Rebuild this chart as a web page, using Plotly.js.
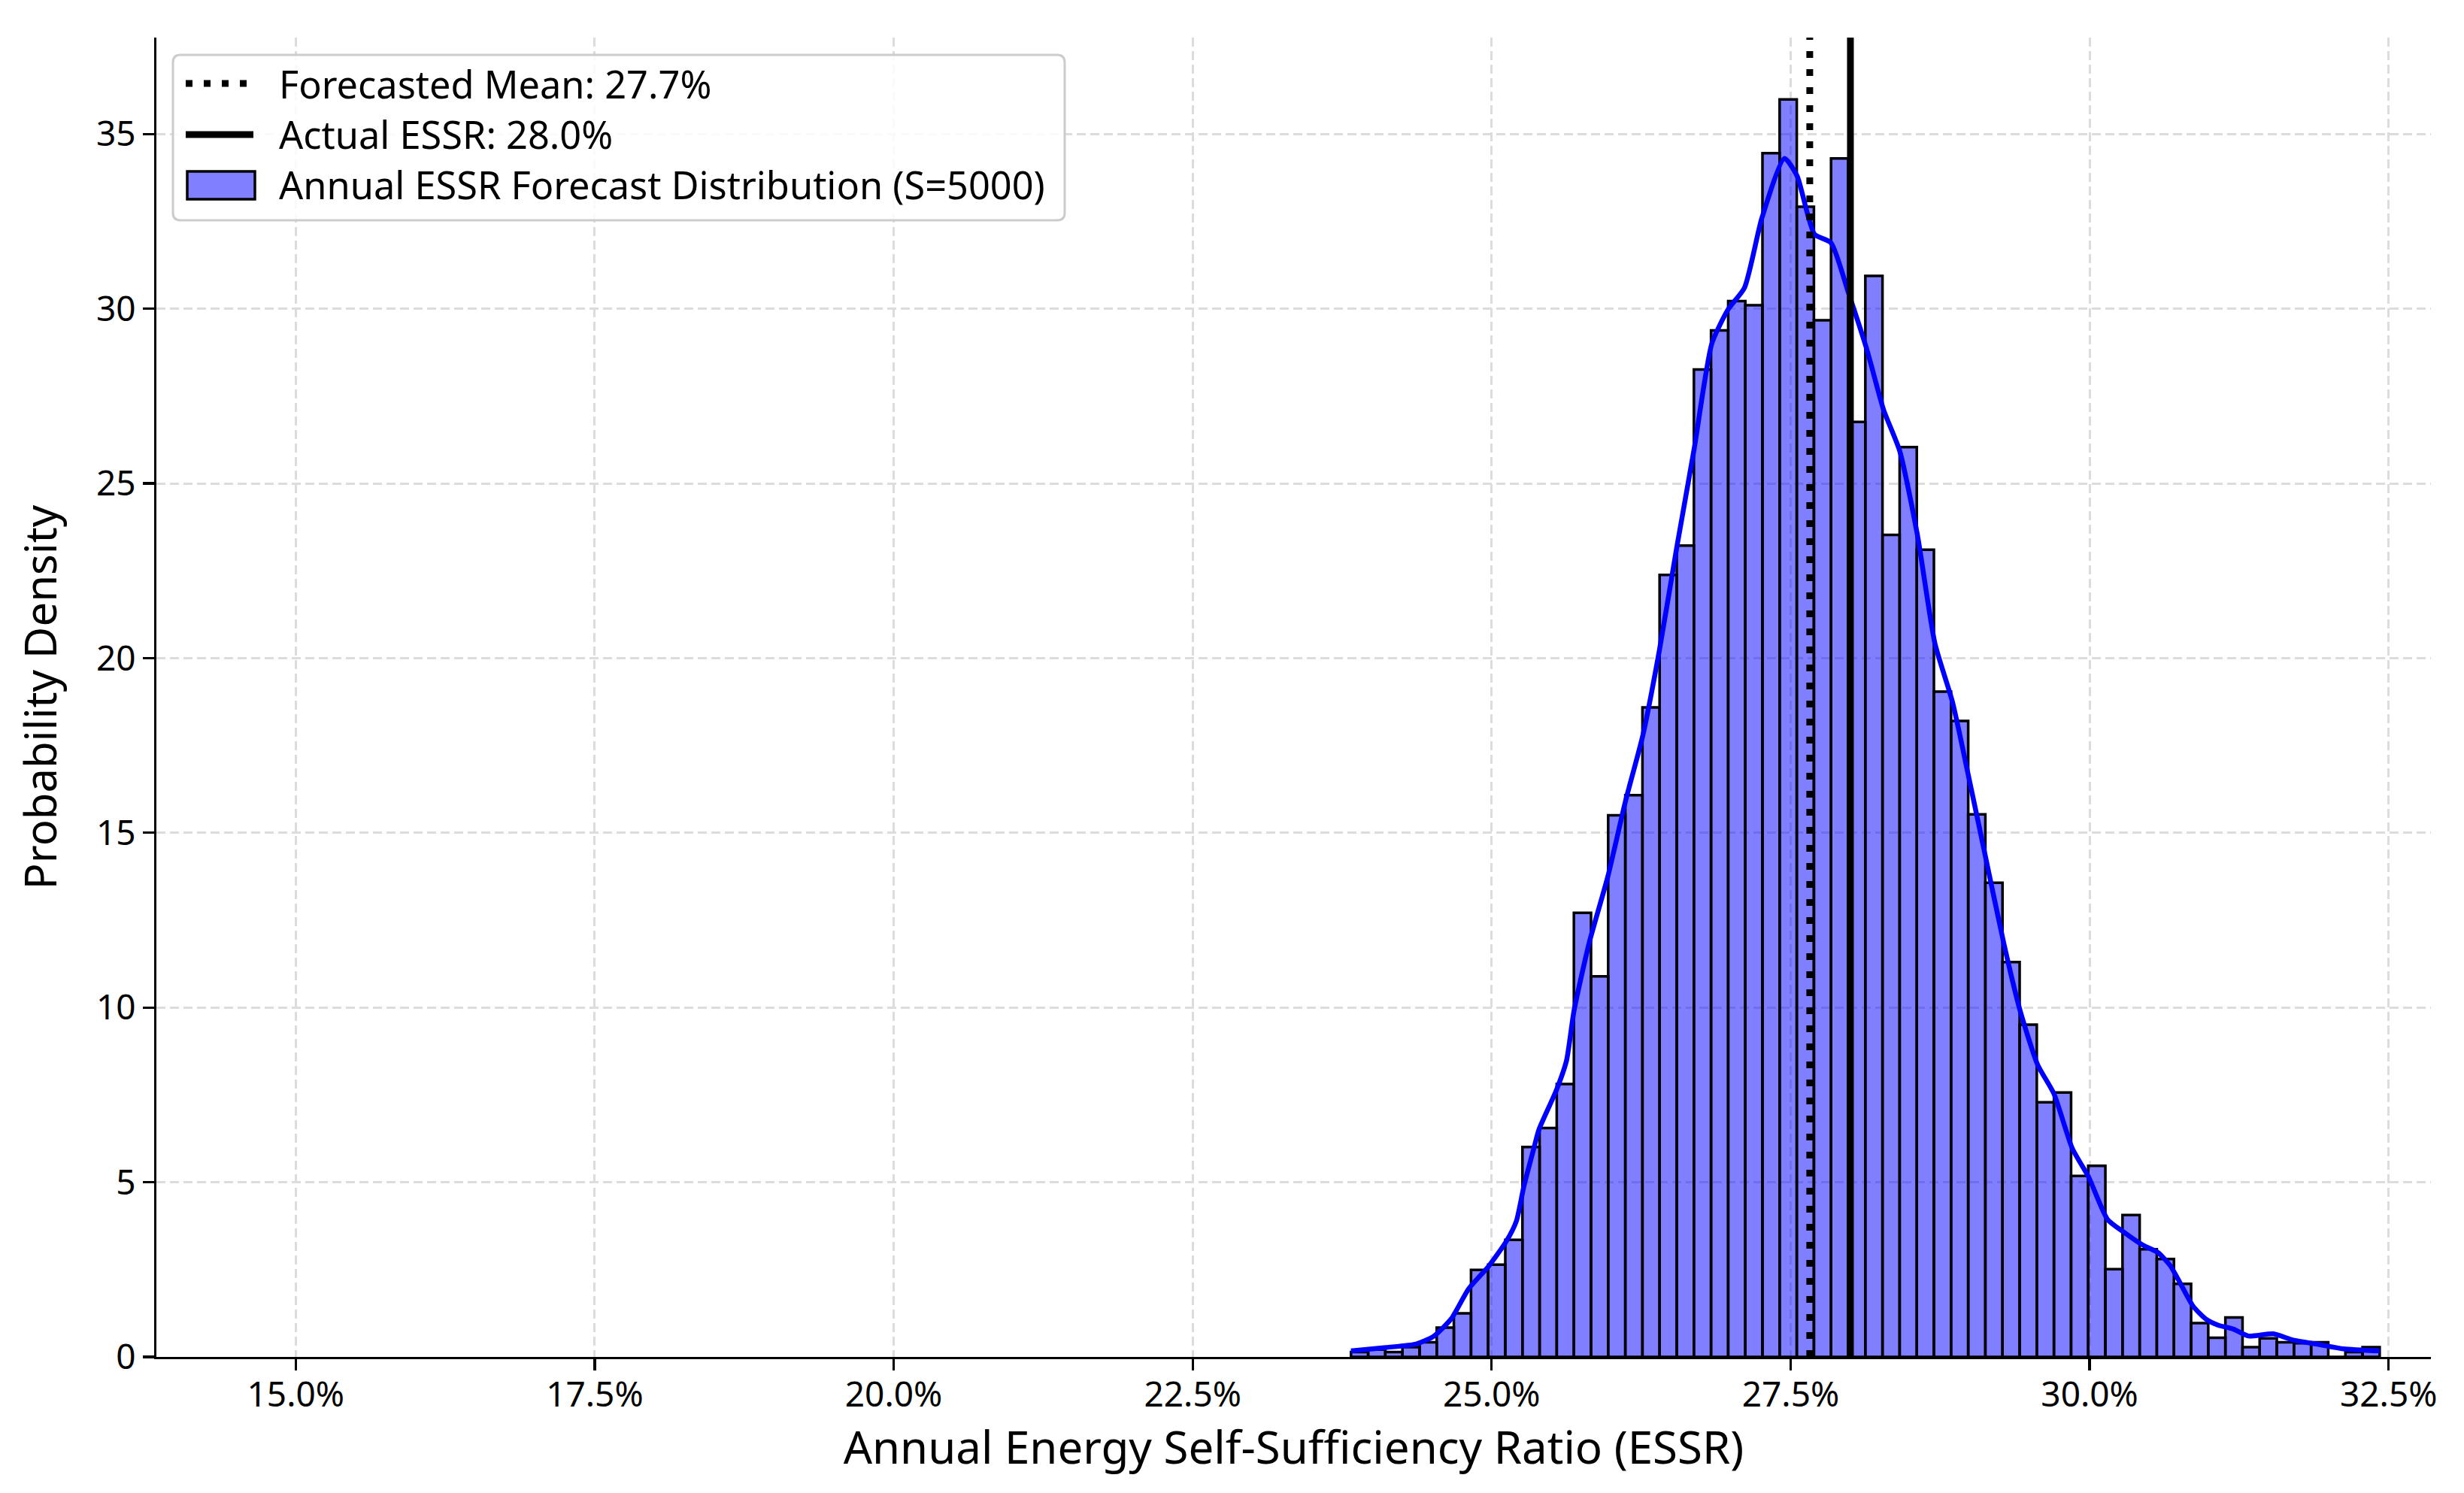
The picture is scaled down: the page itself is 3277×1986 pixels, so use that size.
<!DOCTYPE html>
<html>
<head>
<meta charset="utf-8">
<script src="https://cdn.plot.ly/plotly-3.0.1.min.js"></script>
<style>html,body{margin:0;padding:0;background:#fff;}#chart{width:3277px;height:1986px;}</style>
</head>
<body>
<div id="chart"></div>
<script>
// ---- data ----
const binStart = 0.23824;      // left edge of first histogram bin (fraction)
const binWidth = 0.0014336;    // histogram bin width (fraction)
const density = [0.14,0.21,0.14,0.28,0.42,0.84,1.25,2.49,2.64,3.35,
                 6.01,6.55,7.81,12.71,10.89,15.5,16.08,18.59,22.38,23.22,
                 28.26,29.38,30.22,30.10,34.45,35.99,32.92,29.67,34.30,26.76,
                 30.94,23.53,26.04,23.1,19.04,18.2,15.53,13.57,11.3,9.51,
                 7.29,7.57,5.18,5.47,2.51,4.06,3.08,2.80,2.09,0.97,
                 0.55,1.13,0.28,0.53,0.42,0.39,0.42,0,0.14,0.28];
const kdeX = [0.23824,0.24117,0.24368,0.24515,0.24662,0.24808,0.24976,0.25123,0.25207,0.2527,
              0.25353,0.25395,0.25542,0.25626,0.25689,0.25814,0.25971,0.26118,0.26265,0.26401,
              0.26548,0.26694,0.26841,0.26977,0.27114,0.2726,0.27449,0.27554,0.277,0.27837,
              0.27983,0.28141,0.28277,0.28413,0.2856,0.28706,0.28853,0.28989,0.29136,0.29283,
              0.29419,0.29566,0.29702,0.29855,0.29993,0.30149,0.30283,0.30446,0.30572,0.30677,
              0.30761,0.30866,0.3097,0.31075,0.31201,0.31326,0.31536,0.31703,0.31913,0.32123,0.32426];
const kdeY = [0.17,0.27,0.37,0.59,1.09,1.95,2.6,3.31,3.89,4.89,
              5.97,6.5,7.64,8.48,9.91,11.83,13.74,15.89,17.8,20.19,
              23.17,26.0,29.0,29.98,30.6,32.6,34.3,33.8,32.13,31.89,
              30.46,28.79,27.11,25.92,23.53,20.43,18.75,16.6,14.21,11.83,
              9.91,8.36,7.53,5.97,5.14,3.94,3.58,3.2,2.99,2.6,
              2.09,1.45,1.09,0.91,0.8,0.6,0.66,0.48,0.36,0.23,0.17];
const forecastMean = 0.2766;
const actualESSR = 0.280;
const legendLabels = ["Forecasted Mean: 27.7%", "Actual ESSR: 28.0%", "Annual ESSR Forecast Distribution (S=5000)"];
const xTitle = "Annual Energy Self-Sufficiency Ratio (ESSR)";
const yTitle = "Probability Density";

// ---- build ----
const FONT = '"Noto Sans", "Noto Sans CJK JP", sans-serif';
const binCenters = density.map((_, i) => binStart + binWidth * (i + 0.5));

const traces = [
  {
    type: 'bar', x: binCenters, y: density, width: binWidth,
    marker: {color: 'rgba(0,0,255,0.5)', line: {color: '#000', width: 3.5}},
    hoverinfo: 'x+y', showlegend: false
  },
  {
    type: 'scatter', mode: 'lines', x: kdeX, y: kdeY,
    line: {color: '#0000ff', width: 6.5, shape: 'spline', smoothing: 0.6},
    showlegend: false
  }
];

// pixel -> paper helpers for the legend box (plot area l=208, r=3233, t=50, b=1805)
const L = 208, R = 3233, T = 50, B = 1805;
const px = v => (v - L) / (R - L);
const py = v => (B - v) / (B - T);

function roundRect(x0, y0, x1, y1, r) {
  const rx = r / (R - L), ry = r / (B - T);
  const X0 = px(x0), X1 = px(x1), Y0 = py(y1), Y1 = py(y0);
  return `M${X0+rx},${Y0} L${X1-rx},${Y0} Q${X1},${Y0} ${X1},${Y0+ry} L${X1},${Y1-ry} Q${X1},${Y1} ${X1-rx},${Y1} L${X0+rx},${Y1} Q${X0},${Y1} ${X0},${Y1-ry} L${X0},${Y0+ry} Q${X0},${Y0} ${X0+rx},${Y0} Z`;
}

const rows = [111, 179, 246.7];
const textRows = [111, 179, 246];

const shapes = [
  {type: 'line', xref: 'x', yref: 'paper', x0: forecastMean, x1: forecastMean, y0: 0, y1: 1,
   line: {color: '#000', width: 9, dash: '9px,15px'}, layer: 'above'},
  {type: 'line', xref: 'x', yref: 'paper', x0: actualESSR, x1: actualESSR, y0: 0, y1: 1,
   line: {color: '#000', width: 9}, layer: 'above'},
  // legend frame
  {type: 'path', xref: 'paper', yref: 'paper', path: roundRect(230, 73, 1416, 293, 10),
   fillcolor: 'rgba(255,255,255,0.85)', line: {color: '#cccccc', width: 3}, layer: 'above'},
  {type: 'line', xref: 'paper', yref: 'paper', x0: px(247), x1: px(337), y0: py(rows[0]), y1: py(rows[0]),
   line: {color: '#000', width: 9, dash: '9px,15px'}, layer: 'above'},
  {type: 'line', xref: 'paper', yref: 'paper', x0: px(247), x1: px(337), y0: py(rows[1]), y1: py(rows[1]),
   line: {color: '#000', width: 9}, layer: 'above'},
  {type: 'rect', xref: 'paper', yref: 'paper', x0: px(249), x1: px(339), y0: py(265), y1: py(228),
   fillcolor: 'rgba(0,0,255,0.5)', line: {color: '#000', width: 3.5}, layer: 'above'}
];

const annotations = legendLabels.map((t, i) => ({
  xref: 'paper', yref: 'paper', x: px(369), y: py(textRows[i]), xanchor: 'left', yanchor: 'middle',
  text: t, showarrow: false, font: {family: FONT, size: 50.5, color: '#000'}
}));

const layout = {
  width: 3277, height: 1986,
  margin: {l: L, r: 3277 - R, t: T, b: 1986 - B, pad: 0},
  paper_bgcolor: '#fff', plot_bgcolor: '#fff',
  bargap: 0,
  showlegend: false,
  font: {family: FONT, size: 46, color: '#000'},
  xaxis: {
    range: [0.13835, 0.32854], tick0: 0, dtick: 0.025, tickformat: '.1%',
    showgrid: true, gridcolor: '#dcdcdc', gridwidth: 3, griddash: '12px,6px',
    zeroline: false, showline: true, linecolor: '#000', linewidth: 3.3,
    ticks: 'outside', ticklen: 15, tickwidth: 3.3, tickcolor: '#000',
    ticklabelstandoff: -8,
    tickfont: {family: FONT, size: 46, color: '#000'},
    title: {text: xTitle, font: {family: FONT, size: 60, color: '#000'}, standoff: 0},
    automargin: false
  },
  yaxis: {
    range: [0, 37.76], tick0: 0, dtick: 5,
    showgrid: true, gridcolor: '#dcdcdc', gridwidth: 3, griddash: '12px,6px',
    zeroline: false, showline: true, linecolor: '#000', linewidth: 3.3,
    ticks: 'outside', ticklen: 15, tickwidth: 3.3, tickcolor: '#000',
    tickfont: {family: FONT, size: 46, color: '#000'},
    title: {text: yTitle, font: {family: FONT, size: 58, color: '#000'}, standoff: 34},
    automargin: false
  },
  shapes: shapes,
  annotations: annotations
};

Plotly.newPlot('chart', traces, layout, {displayModeBar: false, staticPlot: true});
</script>
</body>
</html>
